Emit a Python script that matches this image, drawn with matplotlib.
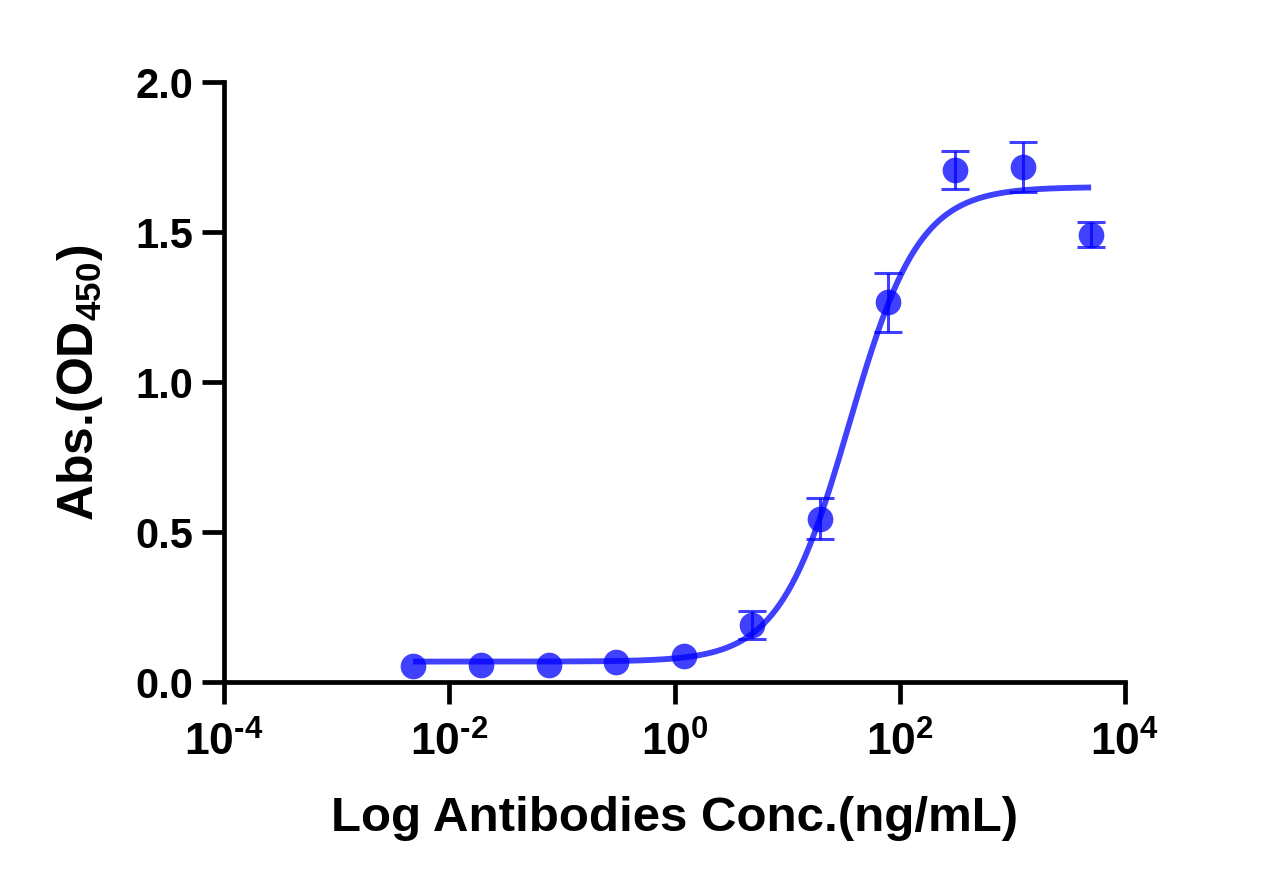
import numpy as np
import matplotlib
matplotlib.use("Agg")
import matplotlib.pyplot as plt
from matplotlib.ticker import FixedLocator, FuncFormatter, NullLocator

# ---- data ----
conc = [0.00477, 0.0191, 0.0763, 0.305, 1.22, 4.88, 19.5, 78.1, 312.5, 1250, 5000]
od450 = [0.055, 0.058, 0.057, 0.066, 0.087, 0.19, 0.545, 1.266, 1.707, 1.717, 1.491]
sd = [0.0, 0.0, 0.0, 0.0, 0.0, 0.046, 0.068, 0.099, 0.063, 0.083, 0.042]

# fitted 4-parameter logistic curve (parameters)
fit_bottom = 0.068
fit_top = 1.65
fit_log_ec50 = 1.55
fit_hill = 1.4

x_ticks = [1e-4, 1e-2, 1e0, 1e2, 1e4]
y_ticks = [0.0, 0.5, 1.0, 1.5, 2.0]
x_label = "Log Antibodies Conc.(ng/mL)"
y_label = r"Abs.(OD$_{450}$)"

plt.rcParams['font.family'] = ['Liberation Sans', 'DejaVu Sans']
plt.rcParams['font.weight'] = 'bold'
plt.rcParams['mathtext.fontset'] = 'custom'
plt.rcParams['mathtext.rm'] = 'Liberation Sans:bold'
plt.rcParams['mathtext.bf'] = 'Liberation Sans:bold'
plt.rcParams['mathtext.it'] = 'Liberation Sans:bold'
plt.rcParams['mathtext.default'] = 'rm'

W, H = 1267, 887
fig = plt.figure(figsize=(W / 100, H / 100), dpi=100)
ax = fig.add_axes([224 / W, 1 - 683 / H, (1125 - 224) / W, (683 - 83) / H])

color = '#0000FF'
alpha = 0.75

conc_a = np.array(conc)
od_a = np.array(od450)
sd_a = np.array(sd)

# fitted curve
xs = np.logspace(np.log10(conc_a[0]), np.log10(conc_a[-1]), 500)
ys = fit_bottom + (fit_top - fit_bottom) / (1 + 10 ** (fit_hill * (fit_log_ec50 - np.log10(xs))))
ax.plot(xs, ys, color=color, alpha=alpha, lw=4.2, solid_capstyle='butt', zorder=2)

# error bars
m = sd_a > 0
ax.errorbar(conc_a[m], od_a[m], yerr=sd_a[m], fmt='none', ecolor=color, alpha=alpha,
            elinewidth=2.2, capsize=10, capthick=2.2, zorder=3, clip_on=False)
# points
ax.plot(conc_a, od_a, 'o', color=color, alpha=alpha, markersize=18.5, markeredgewidth=0,
        zorder=4, clip_on=False)

ax.set_xscale('log')
ax.set_xlim(1e-4, 1e4)
ax.set_ylim(0, 2.0)
ax.xaxis.set_major_locator(FixedLocator(x_ticks))
ax.xaxis.set_minor_locator(NullLocator())


def fmt_x(v, pos):
    e = int(round(np.log10(v)))
    if e < 0:
        return r'$10^{\text{-}%d}$' % (-e)
    return r'$10^{%d}$' % e


ax.xaxis.set_major_formatter(FuncFormatter(fmt_x))
ax.yaxis.set_major_locator(FixedLocator(y_ticks))
ax.yaxis.set_major_formatter(FuncFormatter(lambda v, p: '%.1f' % v))

for s in ['top', 'right']:
    ax.spines[s].set_visible(False)
for s in ['left', 'bottom']:
    ax.spines[s].set_linewidth(3.4)
ax.tick_params(axis='both', which='major', direction='out', length=16, width=3.4, color='black')
ax.tick_params(axis='x', labelsize=32, pad=12)
ax.tick_params(axis='y', labelsize=30, pad=6)

ax.set_xlabel(x_label, fontsize=35.5, fontweight='bold', labelpad=22)
ax.set_ylabel(y_label, fontsize=36, fontweight='bold', labelpad=22)

fig.savefig('out.png', dpi=100)
